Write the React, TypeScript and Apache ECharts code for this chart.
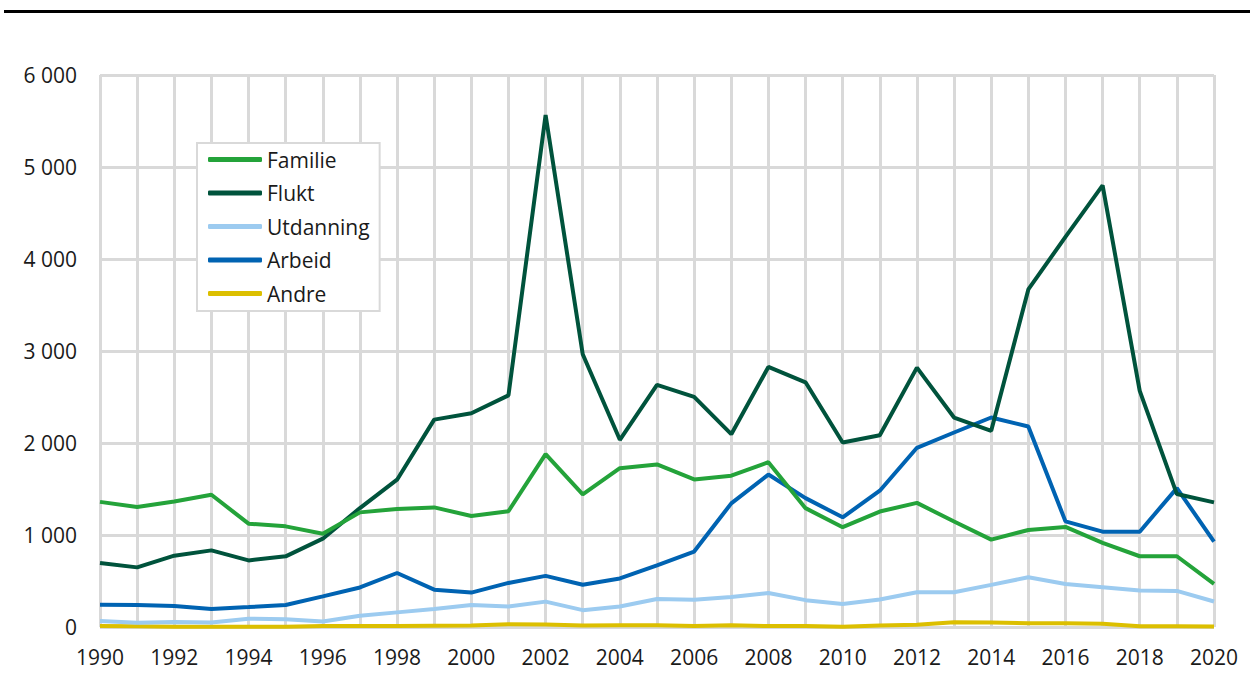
import React, { useEffect, useRef } from "react";
import * as echarts from "echarts";

const years: string[] = [];
for (let y = 1990; y <= 2020; y++) years.push(String(y));

const familie = [1360, 1305, 1365, 1438, 1123, 1094, 1014, 1246, 1283, 1300, 1206, 1259, 1880, 1442, 1726, 1767, 1604, 1645, 1791, 1292, 1085, 1255, 1349, 1146, 950, 1055, 1088, 914, 769, 769, 469];
const flukt = [696, 648, 775, 833, 724, 768, 960, 1293, 1601, 2254, 2323, 2518, 5565, 2965, 2035, 2632, 2502, 2096, 2827, 2660, 2005, 2085, 2819, 2277, 2132, 3669, 4241, 4801, 2566, 1445, 1355];
const utdanning = [65, 45, 55, 50, 90, 85, 60, 123, 159, 195, 240, 223, 276, 183, 223, 305, 297, 325, 370, 292, 251, 298, 378, 378, 458, 541, 468, 432, 396, 392, 277];
const arbeid = [242, 239, 228, 196, 217, 239, 333, 430, 587, 406, 374, 479, 556, 459, 528, 670, 820, 1344, 1657, 1401, 1192, 1481, 1948, 2114, 2277, 2179, 1148, 1036, 1036, 1510, 928];
const andre = [10, 8, 3, 3, 3, 2, 10, 12, 12, 14, 15, 30, 27, 15, 20, 18, 12, 18, 10, 10, 3, 16, 24, 52, 50, 40, 40, 35, 8, 8, 5];

const seriesNames = ["Familie", "Flukt", "Utdanning", "Arbeid", "Andre"];
const seriesColors = ["#24a33a", "#00533c", "#9ccbf0", "#0063b2", "#dcbf00"];
const seriesData = [familie, flukt, utdanning, arbeid, andre];

const fmt = (v: number) => String(v).replace(/\B(?=(\d{3})+(?!\d))/g, " ");

export default function App() {
  const ref = useRef<HTMLDivElement>(null);
  useEffect(() => {
    document.body.style.margin = "0";
    const chart = echarts.init(ref.current!, null, { renderer: "svg" });
    const font = "'Open Sans', 'Noto Sans', sans-serif";
    chart.setOption({
      animation: false,
      backgroundColor: "#ffffff",
      textStyle: { fontFamily: font },
      grid: { left: 100, right: 36, top: 75, bottom: 50, containLabel: false },
      graphic: [
        {
          type: "rect",
          shape: { x: 4, y: 10, width: 1246, height: 3 },
          style: { fill: "#000000" },
        },
      ],
      legend: {
        orient: "vertical",
        left: 197,
        top: 143,
        padding: [6, 10, 7, 11],
        icon: "roundRect",
        itemWidth: 54,
        itemHeight: 5,
        itemGap: 12.5,
        backgroundColor: "#ffffff",
        borderColor: "#d9d9d9",
        borderWidth: 2,
        borderRadius: 0,
        data: seriesNames,
        textStyle: { fontFamily: font, fontSize: 21, color: "#1a1a1a", lineHeight: 21 },
      },
      xAxis: {
        type: "category",
        data: years,
        boundaryGap: false,
        axisLine: { show: false },
        axisTick: { show: false },
        axisLabel: { interval: 1, fontSize: 21, color: "#1a1a1a", margin: 19, fontFamily: font },
        splitLine: { show: true, interval: 0, lineStyle: { color: "#d9d9d9", width: 3 } },
      },
      yAxis: {
        type: "value",
        min: 0,
        max: 6000,
        interval: 1000,
        axisLine: { show: false },
        axisTick: { show: false },
        axisLabel: { fontSize: 21, color: "#1a1a1a", margin: 23, formatter: fmt, fontFamily: font },
        splitLine: { show: true, lineStyle: { color: "#d9d9d9", width: 3 } },
      },
      series: seriesNames.map((name, i) => ({
        name,
        type: "line",
        data: seriesData[i],
        showSymbol: false,
        symbol: "none",
        color: seriesColors[i],
        lineStyle: { color: seriesColors[i], width: 4 },
        z: 10 - i,
      })),
    });
    return () => chart.dispose();
  }, []);
  return <div ref={ref} style={{ position: "absolute", left: 0, top: 0, width: 1250, height: 677 }} />;
}
